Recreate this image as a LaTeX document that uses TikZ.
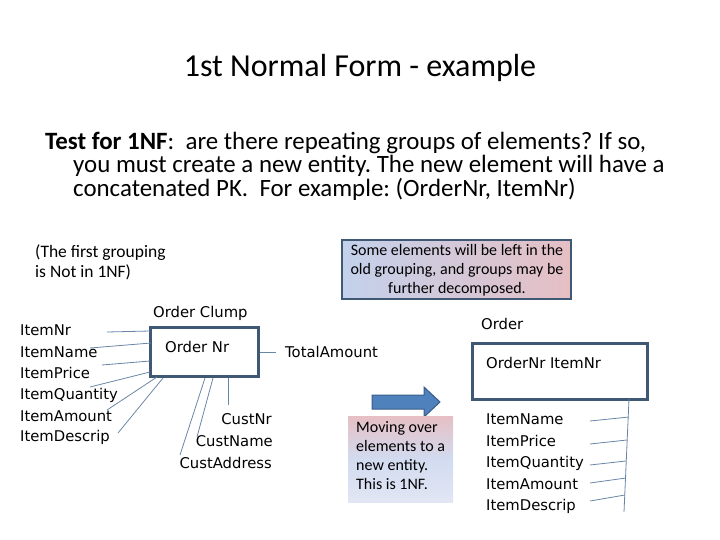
\documentclass[tikz,border=0pt]{standalone}
\usepackage{fontspec}
\setmainfont{Carlito}
\newfontfamily\tah{DejaVu Sans}
\frenchspacing
\definecolor{boxblue}{HTML}{3F5874}
\definecolor{linecol}{HTML}{6A86A6}
\definecolor{arrfill}{HTML}{4F81BD}
\definecolor{arrdraw}{HTML}{385D8A}
\definecolor{cblue}{HTML}{C3D1EC}
\definecolor{cpink}{HTML}{E6BFC4}
\definecolor{mblue}{HTML}{D2DBF0}
\definecolor{mlite}{HTML}{E2E6F4}
\tikzset{
  lbl/.style={font=\tah\fontsize{14.8}{16}\selectfont, inner sep=0pt, anchor=west},
  lblr/.style={font=\tah\fontsize{14.8}{16}\selectfont, inner sep=0pt, anchor=east},
  ent/.style={draw=boxblue, line width=3pt},
  conn/.style={draw=linecol, line width=0.8pt},
  callout/.style={inner sep=0pt},
  testline/.style={font=\fontsize{24.9}{23}\selectfont, inner sep=0pt, anchor=west}
}
\begin{document}
\begin{tikzpicture}[x=1pt,y=-1pt]
\useasboundingbox (0,0) rectangle (720,540);
% title
\node[font=\fontsize{32}{36}\selectfont, inner sep=0pt] (title) at (360,68) {1st Normal Form - example};
% test text
\node[testline] (t1) at (45,143) {\textbf{Test for 1NF}:\ \ are there repeating groups of elements? If so,};
\node[testline] (t2) at (73,166) {you must create a new entity. The new element will have a};
\node[testline] (t3) at (73,189) {concatenated PK.\ \ For example: (OrderNr, ItemNr)};
% first grouping note
\node[callout, anchor=west, align=left, font=\fontsize{17.5}{20}\selectfont] (note) at (35,262) {(The first grouping\\is Not in 1NF)};
% callout box top right
\path[left color=cblue, right color=cpink, draw=boxblue, line width=2pt] (342,240) rectangle (571,299);
\node[callout, align=center, font=\fontsize{16}{19}\selectfont] (some) at (457,270) {Some elements will be left in the\\old grouping, and groups may be\\further decomposed.};
% order clump
\node[lbl] (oclabel) at (153,313) {Order Clump};
\draw[ent] (150,327) rectangle (258,376);
\node[lbl] (ocnr) at (165,347) {Order Nr};
% left items
\node[lbl] (i1) at (20,330) {ItemNr};
\node[lbl] (i2) at (20,352) {ItemName};
\node[lbl] (i3) at (20,373) {ItemPrice};
\node[lbl] (i4) at (20,395) {ItemQuantity};
\node[lbl] (i5) at (20,416) {ItemAmount};
\node[lbl] (i6) at (20,437) {ItemDescrip};
\coordinate (a1) at (107,332); \coordinate (b1) at (150,331);
\coordinate (a2) at (90,348);  \coordinate (b2) at (151,343);
\coordinate (a3) at (102,365); \coordinate (b3) at (150,361);
\coordinate (a4) at (90,387);  \coordinate (b4) at (150,372);
\coordinate (a5) at (107,410); \coordinate (b5) at (157,377);
\coordinate (a6) at (118,433); \coordinate (b6) at (163,378);
\foreach \k in {1,...,6} \draw[conn] (a\k) -- (b\k);
% cust
\node[lblr] (c1) at (272,419) {CustNr};
\node[lblr] (c2) at (273,441) {CustName};
\node[lblr] (c3) at (272,463) {CustAddress};
\coordinate (d1) at (228,378); \coordinate (e1) at (228,405);
\coordinate (d2) at (213,378); \coordinate (e2) at (197,437);
\coordinate (d3) at (205,378); \coordinate (e3) at (180,455);
\foreach \k in {1,2,3} \draw[conn] (d\k) -- (e\k);
% total amount
\node[lbl] (tot) at (285,352) {TotalAmount};
\coordinate (ta) at (260,352);
\coordinate (tb) at (276,352);
\draw[conn] (ta) -- (tb);
% arrow
\draw[fill=arrfill, draw=arrdraw, line width=1pt] (372,395) -- (424,395) -- (424,387) -- (440,402) -- (424,417) -- (424,409) -- (372,409) -- cycle;
% moving box
\shade[top color=cpink, bottom color=mlite, middle color=mblue] (348,416) rectangle (453,502);
\node[callout, anchor=north west, align=left, font=\fontsize{16}{19}\selectfont] (move) at (356,421) {Moving over\\elements to a\\new entity.\\This is 1NF.};
% order entity
\node[lbl] (olabel) at (481,324) {Order};
\draw[ent] (472,343) rectangle (647,399);
\node[lbl] (onr) at (486,363) {OrderNr ItemNr};
\node[lbl] (r1) at (486,419) {ItemName};
\node[lbl] (r2) at (486,441) {ItemPrice};
\node[lbl] (r3) at (486,463) {ItemQuantity};
\node[lbl] (r4) at (486,484) {ItemAmount};
\node[lbl] (r5) at (486,506) {ItemDescrip};
\coordinate (vtop) at (629,399); \coordinate (vbot) at (624,512);
\draw[conn] (vtop) -- (vbot);
\coordinate (f1) at (590,421); \coordinate (g1) at (629,417);
\coordinate (f2) at (590,444); \coordinate (g2) at (627,440);
\coordinate (f3) at (590,465); \coordinate (g3) at (626,461);
\coordinate (f4) at (590,483); \coordinate (g4) at (626,478);
\coordinate (f5) at (590,501); \coordinate (g5) at (625,495);
\foreach \k in {1,...,5} \draw[conn] (f\k) -- (g\k);
\end{tikzpicture}
\end{document}
